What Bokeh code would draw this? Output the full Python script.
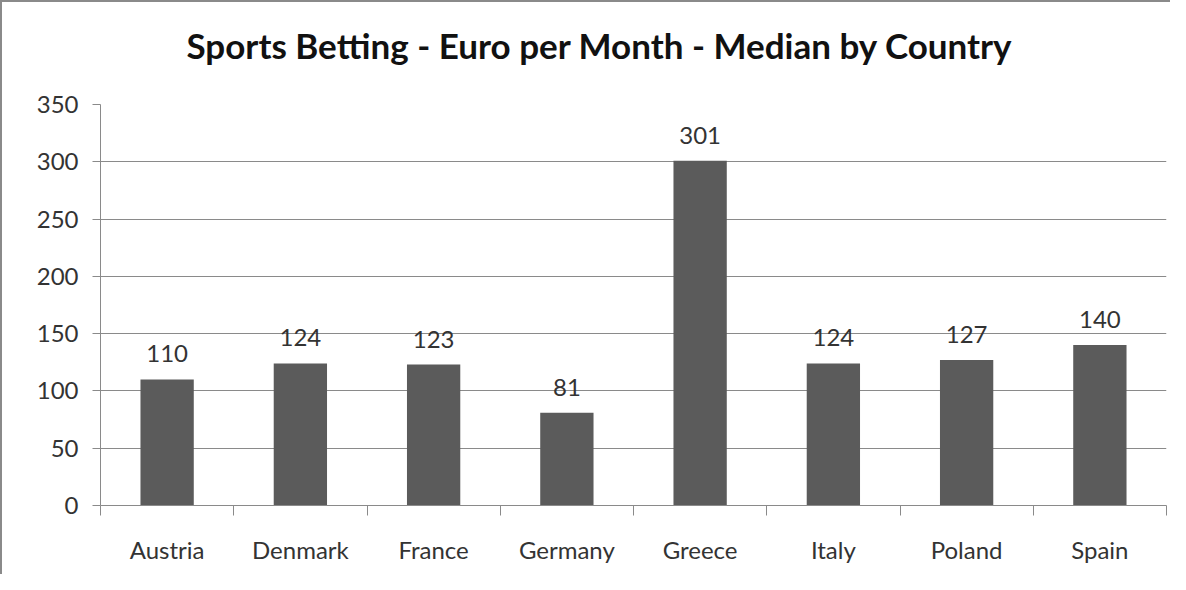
from bokeh.plotting import figure
from bokeh.models import FixedTicker, ColumnDataSource, Range1d, Title
from bokeh.embed import file_html
from bokeh.resources import INLINE
from bokeh.core.properties import value

countries = ["Austria", "Denmark", "France", "Germany", "Greece", "Italy", "Poland", "Spain"]
medians = [110, 124, 123, 81, 301, 124, 127, 140]
y_ticks = [0, 50, 100, 150, 200, 250, 300, 350]
title_text = "Sports Betting - Euro per Month - Median by Country"

centers = [i + 0.5 for i in range(len(countries))]
src = ColumnDataSource(dict(x=centers, top=medians, label=[str(v) for v in medians]))

FONT = "Lato"
W, H = 1170, 574
p = figure(width=W, height=H, output_backend="svg", toolbar_location=None, title=None,
           x_range=Range1d(0, len(countries)), y_range=Range1d(0, 350),
           min_border_left=98, min_border_right=6, min_border_top=102, min_border_bottom=71)
p.outline_line_color = None
p.background_fill_color = "white"
p.border_fill_color = "white"
p.styles = {"border-left": "2px solid #8a8a8a", "border-top": "2px solid #8a8a8a"}

p.vbar(x="x", top="top", width=0.4, source=src, fill_color="#5b5b5b", line_color=None)
p.text(x="x", y="top", text="label", source=src, text_align="center", text_baseline="bottom",
       y_offset=-17, text_font=value(FONT), text_font_size="24px", text_color="#333333")

# spacer panel between the frame and the title
p.add_layout(Title(text=" ", text_font_size="1px", standoff=34), "above")
p.add_layout(Title(text=title_text, align="left", offset=86, standoff=4,
                   text_font=FONT, text_font_size="35px", text_font_style="bold",
                   text_color="#111111"), "above")

# x axis
p.xaxis.ticker = FixedTicker(ticks=centers, minor_ticks=list(range(len(countries) + 1)))
p.xaxis.major_label_overrides = {c: n for c, n in zip(centers, countries)}
p.xaxis.major_tick_line_color = None
p.xaxis.minor_tick_line_color = "#8a8a8a"
p.xaxis.minor_tick_out = 10
p.xaxis.minor_tick_in = 0
p.xaxis.axis_line_color = "#8a8a8a"
p.xaxis.major_label_text_font = FONT
p.xaxis.major_label_text_font_size = "24px"
p.xaxis.major_label_text_color = "#333333"
p.xaxis.major_label_standoff = 19

# y axis
p.yaxis.ticker = FixedTicker(ticks=y_ticks)
p.yaxis.minor_tick_line_color = None
p.yaxis.major_tick_line_color = "#8a8a8a"
p.yaxis.major_tick_out = 8
p.yaxis.major_tick_in = 0
p.yaxis.axis_line_color = "#8a8a8a"
p.yaxis.major_label_text_font = FONT
p.yaxis.major_label_text_font_size = "24px"
p.yaxis.major_label_text_color = "#333333"
p.yaxis.major_label_standoff = 14

p.xgrid.grid_line_color = None
p.ygrid.grid_line_color = "#8a8a8a"
p.ygrid.ticker = FixedTicker(ticks=y_ticks)

open("out.html", "w").write(file_html(p, INLINE))
